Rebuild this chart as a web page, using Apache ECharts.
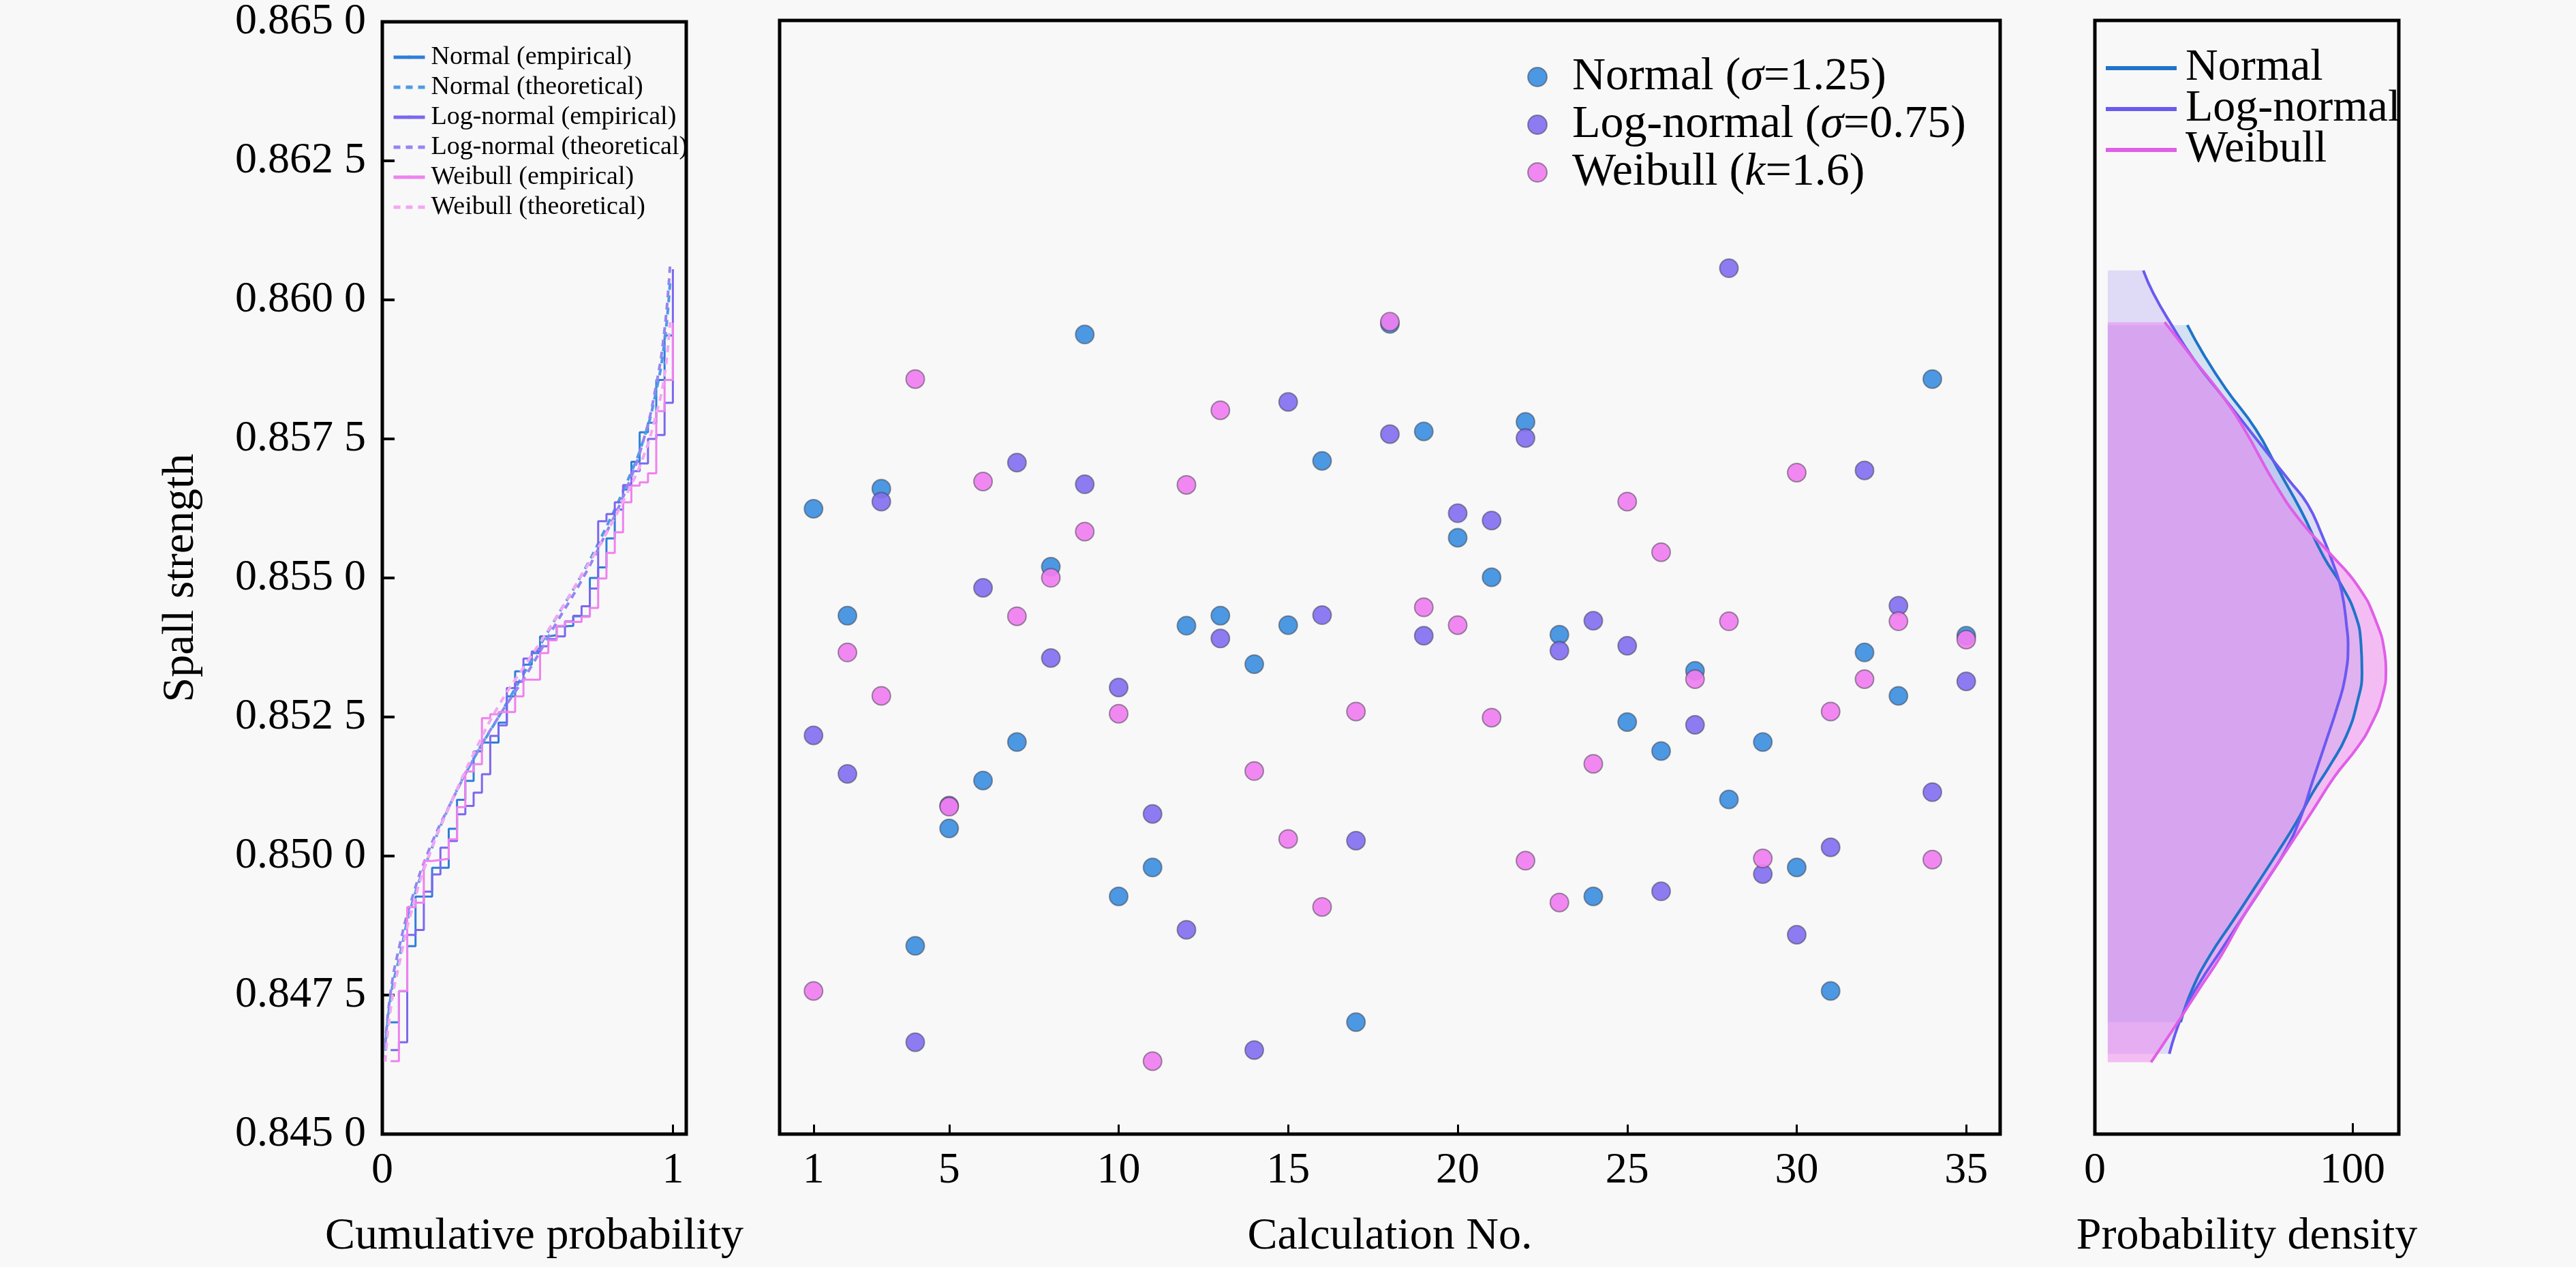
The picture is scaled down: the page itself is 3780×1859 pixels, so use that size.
<!DOCTYPE html>
<html><head><meta charset="utf-8">
<script src="https://cdn.jsdelivr.net/npm/echarts@6/dist/echarts.min.js"></script>
<style>html,body{margin:0;padding:0;background:#f8f8f8;}#c{width:3780px;height:1859px;}</style>
</head><body><div id="c"></div>
<script>
// ---------------- data ----------------
const calcNo = [1,2,3,4,5,6,7,8,9,10,11,12,13,14,15,16,17,18,19,20,21,22,23,24,25,26,27,28,29,30,31,32,33,34,35];
const normalVals = [0.85623,0.85431,0.85659,0.84838,0.85049,0.85135,0.85204,0.85519,0.85936,0.84927,
  0.84979,0.85413,0.85431,0.85344,0.85414,0.85709,0.84701,0.85955,0.85762,0.85571,
  0.85500,0.85779,0.85397,0.84927,0.85240,0.85188,0.85332,0.85101,0.85204,0.84979,
  0.84757,0.85365,0.85287,0.85856,0.85395];
const lognormalVals = [0.85216,0.85147,0.85636,0.84665,0.85090,0.85481,0.85706,0.85355,0.85667,0.85302,
  0.85075,0.84867,0.85390,0.84651,0.85815,0.85432,0.85027,0.85757,0.85395,0.85615,
  0.85602,0.85750,0.85368,0.85422,0.85377,0.84936,0.85235,0.86055,0.84967,0.84858,
  0.85015,0.85692,0.85449,0.85114,0.85313];
const weibullVals = [0.84757,0.85365,0.85287,0.85856,0.85088,0.85672,0.85430,0.85499,0.85582,0.85255,
  0.84631,0.85666,0.85800,0.85152,0.85030,0.84908,0.85259,0.85959,0.85446,0.85414,
  0.85248,0.84991,0.84916,0.85165,0.85636,0.85545,0.85317,0.85421,0.84995,0.85688,
  0.85259,0.85317,0.85421,0.84993,0.85388];

// theoretical CDF curves [cumulative probability, spall strength]
const normalTheo = [[0.010,0.8465],[0.03,0.8475],[0.06,0.8482],[0.10,0.8491],[0.16,0.8500],[0.24,0.8510],[0.32,0.8518],[0.40,0.8525],[0.50,0.8534],[0.60,0.8543],[0.68,0.8550],[0.76,0.8558],[0.84,0.8567],[0.90,0.8575],[0.94,0.8583],[0.97,0.8592],[0.99,0.8603]];
const lognormalTheo = [[0.010,0.8466],[0.03,0.8476],[0.06,0.8484],[0.10,0.8492],[0.16,0.8501],[0.24,0.8510],[0.32,0.8518],[0.40,0.8525],[0.50,0.8533],[0.60,0.8542],[0.68,0.8549],[0.76,0.8557],[0.84,0.8566],[0.90,0.8575],[0.94,0.8584],[0.97,0.8594],[0.99,0.8606]];
const weibullTheo = [[0.010,0.8463],[0.03,0.8473],[0.06,0.8481],[0.10,0.8490],[0.16,0.8500],[0.24,0.8510],[0.32,0.8519],[0.40,0.8527],[0.50,0.8535],[0.60,0.8543],[0.68,0.8550],[0.76,0.8557],[0.84,0.8565],[0.90,0.8572],[0.94,0.8579],[0.97,0.8586],[0.99,0.8596]];

// probability density curves [density, spall strength]
const normalPdf = [[35.9,0.85953],[42.1,0.85901],[50.9,0.85838],[62.4,0.85766],[71.2,0.85693],[80.0,0.85620],[88.8,0.85537],[95.8,0.85485],[101.1,0.85433],[103.3,0.85381],[103.7,0.85330],[102.0,0.85278],[97.6,0.85215],[91.4,0.85163],[84.4,0.85112],[78.2,0.85060],[71.2,0.85008],[62.4,0.84945],[53.6,0.84883],[44.7,0.84821],[37.7,0.84759],[33.3,0.84701]];
const lognormalPdf = [[18.8,0.86051],[22.7,0.86010],[29.8,0.85953],[38.6,0.85890],[49.1,0.85828],[58.0,0.85776],[66.8,0.85724],[75.6,0.85673],[82.6,0.85631],[87.9,0.85579],[92.3,0.85527],[95.8,0.85475],[98.0,0.85402],[98.3,0.85382],[97.1,0.85319],[94.1,0.85267],[89.7,0.85205],[84.4,0.85132],[80.0,0.85070],[73.8,0.85008],[66.8,0.84956],[58.0,0.84894],[49.1,0.84831],[40.3,0.84769],[34.2,0.84717],[28.9,0.84644]];
const weibullPdf = [[27.1,0.85958],[38.6,0.85890],[49.1,0.85828],[58.0,0.85766],[69.4,0.85672],[80.0,0.85600],[91.4,0.85542],[102.0,0.85485],[109.0,0.85423],[112.6,0.85361],[113.0,0.85335],[111.7,0.85288],[107.3,0.85236],[102.0,0.85195],[93.2,0.85143],[84.4,0.85080],[75.6,0.85018],[66.8,0.84956],[58.0,0.84894],[49.1,0.84821],[40.3,0.84759],[31.5,0.84696],[21.8,0.84629]];
const pdfFillBase = 5;

const cdfTicks = [0, 1];
const calcTicks = [1, 5, 10, 15, 20, 25, 30, 35];
const pdfTicks = [0, 100];

// ---------------- styling ----------------
const FONT = "'Liberation Serif','Times New Roman',serif";
const C_N = '#2f7ed8', C_L = '#7b68ee', C_W = '#ee82ee';
const C_NT = '#4d9be6', C_LT = '#9585f2', C_WT = '#f3a6f3';

function ecdf(vals) {
  const s = vals.slice().sort((a, b) => a - b);
  return s.map((v, i) => [(i + 1) / s.length, v]);
}
function pairs(xs, ys) { return xs.map((x, i) => [x, ys[i]]); }
function fmtY(v) { const s = v.toFixed(4); return s.slice(0, 5) + ' ' + s.slice(5); }

const chart = echarts.init(document.getElementById('c'), null, {renderer: 'canvas'});

const gridCommon = {top: 30, height: 1634, show: true, borderColor: '#000', borderWidth: 5, backgroundColor: 'transparent'};
function xAx(gi, max, ticks, name, tickLen) {
  return {
    type: 'value', gridIndex: gi, min: 0, max: max,
    splitLine: {show: false}, axisLine: {show: false},
    axisTick: {show: true, inside: true, length: tickLen, customValues: ticks, lineStyle: {color: '#000', width: 3}},
    axisLabel: {customValues: ticks, fontSize: 64, color: '#000', fontFamily: FONT, margin: 22},
    name: name, nameLocation: 'middle', nameGap: 118,
    nameTextStyle: {fontSize: 66, color: '#000', fontFamily: FONT}
  };
}
function yAx(gi, show) {
  const a = {
    type: 'value', gridIndex: gi, min: 0.845, max: 0.865, interval: 0.0025,
    splitLine: {show: false}, axisLine: {show: false},
    axisTick: {show: show, inside: true, length: 18, lineStyle: {color: '#000', width: 4}},
    axisLabel: {show: show, fontSize: 64, color: '#000', fontFamily: FONT, margin: 24, formatter: fmtY}
  };
  if (show) {
    a.name = 'Spall strength'; a.nameLocation = 'middle'; a.nameGap = 262;
    a.nameTextStyle = {fontSize: 66, color: '#000', fontFamily: FONT};
  }
  return a;
}

function fillSeries(pdf, color, nm) {
  return {
    type: 'custom', name: nm, xAxisIndex: 2, yAxisIndex: 2, silent: true, z: 1,
    data: [[pdf[0][0], pdf[0][1]]],
    renderItem: function (params, api) {
      const pts = [api.coord([pdfFillBase, pdf[0][1]])];
      pdf.forEach(p => pts.push(api.coord(p)));
      pts.push(api.coord([pdfFillBase, pdf[pdf.length - 1][1]]));
      return {type: 'polygon', shape: {points: pts, smooth: 0}, style: {fill: color}};
    }
  };
}

const scatterStyle = (c) => ({color: c, opacity: 0.92, borderColor: 'rgba(60,60,70,0.55)', borderWidth: 2});
const richLegend = {
  n: {fontSize: 68, fontFamily: FONT, color: '#000'},
  i: {fontSize: 68, fontFamily: FONT, color: '#000', fontStyle: 'italic'}
};
const scatterLegendText = {
  'Normal (σ=1.25)': '{n|Normal (}{i|σ}{n|=1.25)}',
  'Log-normal (σ=0.75)': '{n|Log-normal (}{i|σ}{n|=0.75)}',
  'Weibull (k=1.6)': '{n|Weibull (}{i|k}{n|=1.6)}'
};

const option = {
  backgroundColor: '#f8f8f8',
  animation: false,
  textStyle: {fontFamily: FONT},
  grid: [
    Object.assign({left: 561, width: 446}, gridCommon),
    Object.assign({left: 1144, width: 1791}, gridCommon),
    Object.assign({left: 3074, width: 446}, gridCommon)
  ],
  xAxis: [
    xAx(0, 1.046, cdfTicks, 'Cumulative probability', 14),
    xAx(1, 36, calcTicks, 'Calculation No.', 14),
    xAx(2, 118, pdfTicks, 'Probability density', 16)
  ],
  yAxis: [yAx(0, true), yAx(1, false), yAx(2, false)],
  legend: [
    {
      data: ['Normal (empirical)', 'Normal (theoretical)', 'Log-normal (empirical)', 'Log-normal (theoretical)', 'Weibull (empirical)', 'Weibull (theoretical)'],
      orient: 'vertical', left: 570, top: 60, itemWidth: 46, itemHeight: 6, itemGap: 6,
      lineStyle: {width: 5},
      textStyle: {fontSize: 38, color: '#000', fontFamily: FONT, padding: [0, 0, 0, 4]},
      selectedMode: false
    },
    {
      data: ['Normal (σ=1.25)', 'Log-normal (σ=0.75)', 'Weibull (k=1.6)'],
      orient: 'vertical', left: 2236, top: 74, icon: 'circle', itemWidth: 28, itemHeight: 28, itemGap: 2,
      formatter: (name) => scatterLegendText[name],
      textStyle: {fontSize: 68, color: '#000', fontFamily: FONT, padding: [0, 0, 0, 32], rich: richLegend},
      selectedMode: false
    },
    {
      data: ['Normal', 'Log-normal', 'Weibull'],
      orient: 'vertical', left: 3082, top: 62, itemWidth: 104, itemHeight: 6, itemGap: -6,
      lineStyle: {width: 6},
      textStyle: {fontSize: 66, color: '#000', fontFamily: FONT, padding: [0, 0, 0, 8]},
      selectedMode: false
    }
  ],
  series: [
    // ---- CDF panel ----
    {name: 'Normal (empirical)', type: 'line', xAxisIndex: 0, yAxisIndex: 0, data: ecdf(normalVals), step: 'end', symbol: 'none', lineStyle: {color: C_N, width: 3}, itemStyle: {color: C_N}},
    {name: 'Normal (theoretical)', type: 'line', xAxisIndex: 0, yAxisIndex: 0, data: normalTheo, smooth: true, symbol: 'none', lineStyle: {color: C_NT, width: 4, type: [10, 8]}, itemStyle: {color: C_NT}},
    {name: 'Log-normal (empirical)', type: 'line', xAxisIndex: 0, yAxisIndex: 0, data: ecdf(lognormalVals), step: 'end', symbol: 'none', lineStyle: {color: C_L, width: 3}, itemStyle: {color: C_L}},
    {name: 'Log-normal (theoretical)', type: 'line', xAxisIndex: 0, yAxisIndex: 0, data: lognormalTheo, smooth: true, symbol: 'none', lineStyle: {color: C_LT, width: 4, type: [10, 8]}, itemStyle: {color: C_LT}},
    {name: 'Weibull (empirical)', type: 'line', xAxisIndex: 0, yAxisIndex: 0, data: ecdf(weibullVals), step: 'end', symbol: 'none', lineStyle: {color: C_W, width: 3}, itemStyle: {color: C_W}},
    {name: 'Weibull (theoretical)', type: 'line', xAxisIndex: 0, yAxisIndex: 0, data: weibullTheo, smooth: true, symbol: 'none', lineStyle: {color: C_WT, width: 4, type: [10, 8]}, itemStyle: {color: C_WT}},
    // ---- scatter panel ----
    {name: 'Normal (σ=1.25)', type: 'scatter', xAxisIndex: 1, yAxisIndex: 1, data: pairs(calcNo, normalVals), symbolSize: 27, itemStyle: scatterStyle('#3d8fe0')},
    {name: 'Log-normal (σ=0.75)', type: 'scatter', xAxisIndex: 1, yAxisIndex: 1, data: pairs(calcNo, lognormalVals), symbolSize: 27, itemStyle: scatterStyle('#8270f0')},
    {name: 'Weibull (k=1.6)', type: 'scatter', xAxisIndex: 1, yAxisIndex: 1, data: pairs(calcNo, weibullVals), symbolSize: 27, itemStyle: scatterStyle('#f07ef0')},
    // ---- density panel ----
    fillSeries(normalPdf, 'rgba(47,128,216,0.18)', 'fill-n'),
    fillSeries(lognormalPdf, 'rgba(123,104,238,0.20)', 'fill-l'),
    fillSeries(weibullPdf, 'rgba(238,130,238,0.50)', 'fill-w'),
    {name: 'Normal', type: 'line', xAxisIndex: 2, yAxisIndex: 2, data: normalPdf, smooth: true, symbol: 'none', z: 3, lineStyle: {color: '#1f74c8', width: 4}, itemStyle: {color: '#1f74c8'}},
    {name: 'Log-normal', type: 'line', xAxisIndex: 2, yAxisIndex: 2, data: lognormalPdf, smooth: true, symbol: 'none', z: 3, lineStyle: {color: '#6a5af0', width: 4}, itemStyle: {color: '#6a5af0'}},
    {name: 'Weibull', type: 'line', xAxisIndex: 2, yAxisIndex: 2, data: weibullPdf, smooth: true, symbol: 'none', z: 3, lineStyle: {color: '#e05ee8', width: 4}, itemStyle: {color: '#e05ee8'}}
  ]
};
chart.setOption(option);
</script>
</body></html>
